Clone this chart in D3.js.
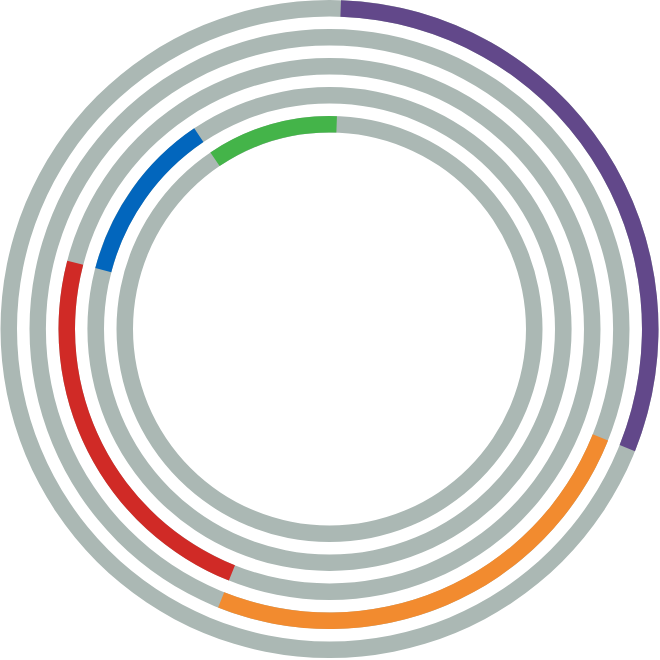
<!DOCTYPE html>
<html>
<head>
<meta charset="utf-8">
<script src="https://cdn.jsdelivr.net/npm/d3@7"></script>
<style>
	html, body { margin: 0; padding: 0; background: #fff; }
	svg { display: block; }
</style>
</head>
<body>
<div id="chart"></div>
<script>

// data: one ring per category, each arc starts where the previous one ended
var categories = ["A", "B", "C", "D", "E"];
var values = [30.5, 25, 23, 11.5, 10];	// percent
var colors = ["#62488a", "#f28b2f", "#d02a26", "#0266bd", "#44b449"];

var width = 660,
	height = 660,
	cx = 329.5,
	cy = 329,
	outerRadius = 329,
	ringStep = 29,
	ringWidth = 16.5,
	offset = 2 * Math.PI / 180,	// small rotation of the whole chart
	trackColor = "#abb8b4";

var svg = d3.select("#chart").append("svg")
	.attr("width", width)
	.attr("height", height);

var g = svg.append("g")
	.attr("transform", "translate(" + cx + "," + cy + ")");

// map percent (0-100) onto angle
var angle = d3.scaleLinear()
	.domain([0, d3.sum(values)])
	.range([offset, offset + 2 * Math.PI]);

// ring index -> outer radius
var radius = d3.scaleLinear()
	.domain([0, 1])
	.range([outerRadius, outerRadius - ringStep]);

var ends = d3.cumsum(values);
var rings = categories.map(function(c, i){
	return {
		name: c,
		color: colors[i],
		start: i === 0 ? 0 : ends[i - 1],
		end: ends[i],
		outer: radius(i),
		inner: radius(i) - ringWidth
	};
});

var arc = d3.arc();

// gray tracks
g.selectAll("path.track")
	.data(rings).enter()
	.append("path")
		.attr("class", "track")
		.attr("fill", trackColor)
		.attr("d", function(d){
			return arc({ innerRadius: d.inner, outerRadius: d.outer, startAngle: 0, endAngle: 2 * Math.PI });
		});

// coloured segments
g.selectAll("path.segment")
	.data(rings).enter()
	.append("path")
		.attr("class", "segment")
		.attr("fill", function(d){ return d.color })
		.attr("d", function(d){
			return arc({ innerRadius: d.inner, outerRadius: d.outer, startAngle: angle(d.start), endAngle: angle(d.end) });
		});

</script>
</body>
</html>
